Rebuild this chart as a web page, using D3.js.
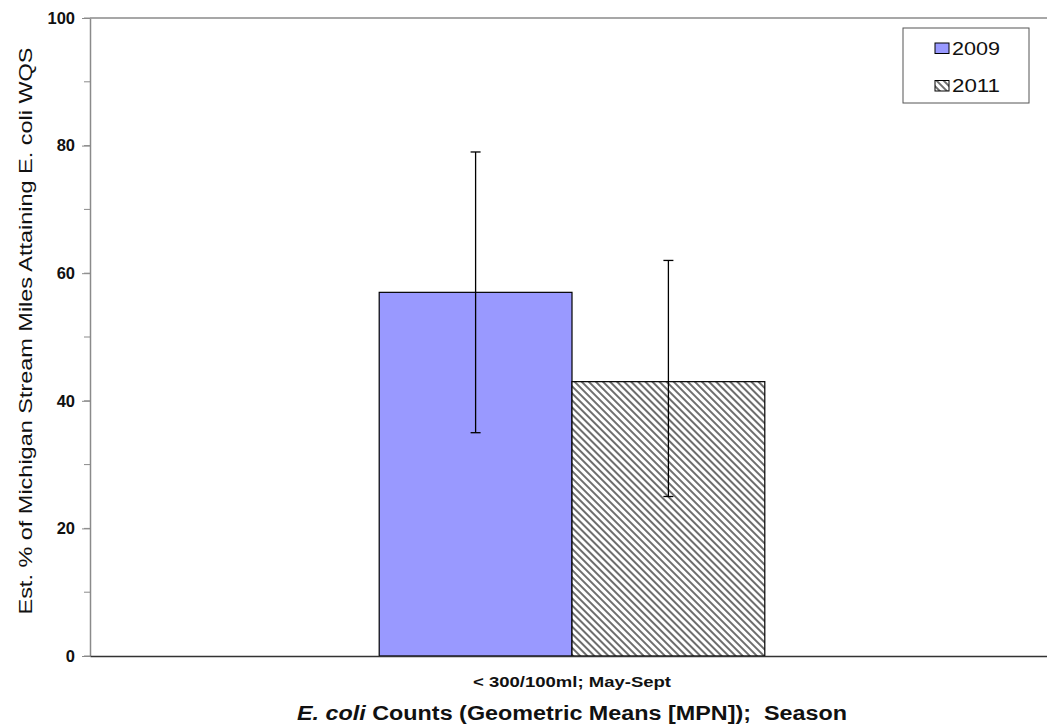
<html>
<head>
  <script src="https://d3js.org/d3.v7.min.js"></script>
  <style>
    body { margin: 0; background: #fff; }
    text { font-family: Arial, 'Liberation Sans', sans-serif; }
  </style>
</head>
<body>
  <div id="chart-container"></div>
  <script>
    // data
    const categories = ["< 300/100ml; May-Sept"];
    const years = ["2009", "2011"];
    const values = [57, 43];
    const errLow = [35, 25];
    const errHigh = [79, 62];
    const yTicks = [0, 20, 40, 60, 80, 100];

    const W = 1047, H = 728;
    const margin = { top: 18, right: -7, bottom: 72, left: 90 };
    const width = W - margin.left - margin.right,
      height = H - margin.top - margin.bottom;

    const svg = d3.select("#chart-container")
      .append("svg")
      .attr("width", W)
      .attr("height", H);

    // diagonal hatch for 2011
    const defs = svg.append("defs");
    const pat = defs.append("pattern")
      .attr("id", "hatch")
      .attr("patternUnits", "userSpaceOnUse")
      .attr("width", 5)
      .attr("height", 5)
      .attr("patternTransform", "rotate(-45)");
    pat.append("rect").attr("width", 5).attr("height", 5).attr("fill", "#fff");
    pat.append("line")
      .attr("x1", 1).attr("y1", 0).attr("x2", 1).attr("y2", 5)
      .attr("stroke", "#6e6e6e").attr("stroke-width", 2);

    const fills = ["#9999ff", "url(#hatch)"];

    const g = svg.append("g")
      .attr("transform", `translate(${margin.left}, ${margin.top})`);

    const y = d3.scaleLinear().domain([0, 100]).range([height, 0]);
    // Excel style gap width 150%
    const x0 = d3.scaleBand().domain(categories).range([0, width])
      .paddingInner(0.6).paddingOuter(0.3);
    const x1 = d3.scaleBand().domain(years).range([0, x0.bandwidth()]);

    // plot frame (top)
    g.append("line").attr("x1", 0).attr("x2", width).attr("y1", 0).attr("y2", 0)
      .attr("stroke", "#8a8a8a").attr("stroke-width", 1.5);

    // y axis with minor ticks
    const yMinor = d3.range(0, 101, 10);
    g.append("g").selectAll("line").data(yMinor).enter().append("line")
      .attr("x1", -6).attr("x2", 0)
      .attr("y1", d => y(d)).attr("y2", d => y(d))
      .attr("stroke", "#8a8a8a");

    const yAxis = g.append("g")
      .call(d3.axisLeft(y).tickValues(yTicks).tickSize(8).tickPadding(7).tickSizeOuter(0));
    yAxis.select(".domain").attr("stroke", "#8a8a8a").attr("stroke-width", 1.5);
    yAxis.selectAll(".tick line").attr("stroke", "#8a8a8a");
    yAxis.selectAll("text")
      .attr("font-size", 16.5).attr("font-weight", "bold").attr("fill", "#111")
      .attr("font-family", "Arial, 'Liberation Sans', sans-serif");

    // bars
    const grp = g.selectAll(".grp").data(categories).enter().append("g")
      .attr("transform", d => `translate(${x0(d)},0)`);

    grp.selectAll("rect").data(years).enter().append("rect")
      .attr("x", d => x1(d))
      .attr("width", x1.bandwidth())
      .attr("y", (d, i) => y(values[i]))
      .attr("height", (d, i) => height - y(values[i]))
      .attr("fill", (d, i) => fills[i])
      .attr("stroke", "#000")
      .attr("stroke-width", 1.2);

    // error bars
    const cap = 5;
    const err = grp.selectAll(".err").data(years).enter().append("g")
      .attr("stroke", "#000").attr("stroke-width", 1.3);
    err.append("line")
      .attr("x1", d => x1(d) + x1.bandwidth() / 2)
      .attr("x2", d => x1(d) + x1.bandwidth() / 2)
      .attr("y1", (d, i) => y(errLow[i]))
      .attr("y2", (d, i) => y(errHigh[i]));
    err.append("line")
      .attr("x1", d => x1(d) + x1.bandwidth() / 2 - cap)
      .attr("x2", d => x1(d) + x1.bandwidth() / 2 + cap)
      .attr("y1", (d, i) => y(errHigh[i]))
      .attr("y2", (d, i) => y(errHigh[i]));
    err.append("line")
      .attr("x1", d => x1(d) + x1.bandwidth() / 2 - cap)
      .attr("x2", d => x1(d) + x1.bandwidth() / 2 + cap)
      .attr("y1", (d, i) => y(errLow[i]))
      .attr("y2", (d, i) => y(errLow[i]));

    // x axis
    const xAxis = g.append("g")
      .attr("transform", `translate(0, ${height})`)
      .call(d3.axisBottom(x0).tickSize(0).tickPadding(21));
    xAxis.select(".domain").attr("stroke", "#333").attr("stroke-width", 1.3);
    xAxis.selectAll("text")
      .style("font-size", "14px").style("font-weight", "bold").attr("fill", "#111")
      .attr("textLength", 198).attr("lengthAdjust", "spacingAndGlyphs");

    // axis titles
    const xt = svg.append("text")
      .attr("x", margin.left + x0(categories[0]) + x0.bandwidth() / 2)
      .attr("y", 720)
      .attr("text-anchor", "middle")
      .style("font-size", "20px").style("font-weight", "bold").attr("fill", "#111")
      .attr("xml:space", "preserve")
      .attr("textLength", 550).attr("lengthAdjust", "spacingAndGlyphs");
    xt.append("tspan").style("font-style", "italic").text("E. coli");
    xt.append("tspan").text(" Counts (Geometric Means [MPN]);  Season");

    svg.append("text")
      .attr("transform", `translate(32, 331) rotate(-90)`)
      .attr("text-anchor", "middle")
      .style("font-size", "19px").attr("fill", "#111")
      .attr("textLength", 567).attr("lengthAdjust", "spacingAndGlyphs")
      .text("Est. % of Michigan Stream Miles Attaining E. coli WQS");

    // legend
    const lg = svg.append("g").attr("transform", "translate(903, 28)");
    lg.append("rect").attr("width", 126).attr("height", 75)
      .attr("fill", "#fff").attr("stroke", "#555").attr("stroke-width", 1);
    const li = lg.selectAll(".li").data(years).enter().append("g")
      .attr("transform", (d, i) => `translate(32, ${15 + i * 37.5})`);
    li.append("rect").attr("width", 14).attr("height", 10.5)
      .attr("fill", (d, i) => fills[i]).attr("stroke", "#000").attr("stroke-width", 1);
    li.append("text").attr("x", 17).attr("y", 11.5)
      .style("font-size", "19px").attr("fill", "#111")
      .attr("textLength", 48).attr("lengthAdjust", "spacingAndGlyphs")
      .text(d => d);
  </script>
</body>
</html>
